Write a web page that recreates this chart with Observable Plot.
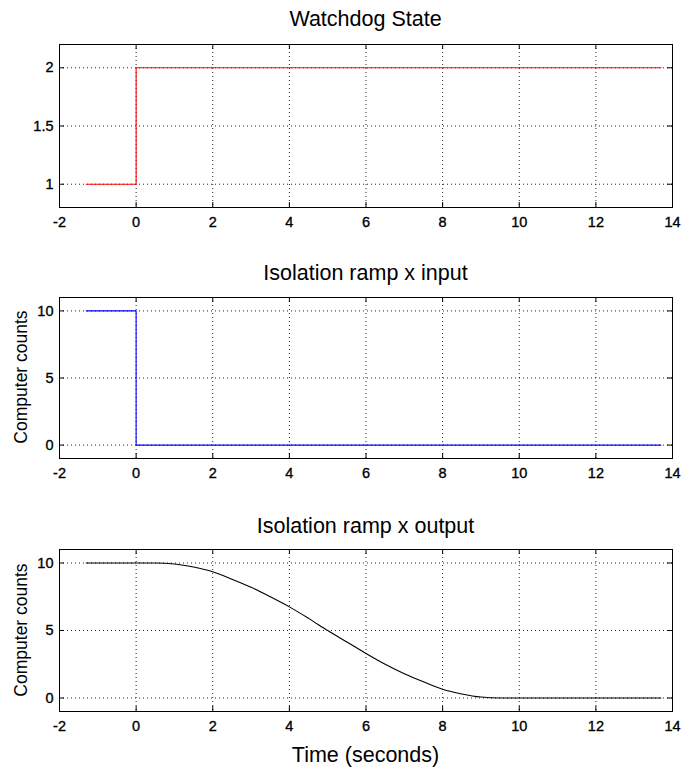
<!DOCTYPE html>
<html><head><meta charset="utf-8">
<script src="https://cdn.jsdelivr.net/npm/d3@7"></script>
<script src="https://cdn.jsdelivr.net/npm/@observablehq/plot@0.6"></script>
<style>
body{margin:0;background:#fff;}
#root{position:relative;width:685px;height:774px;font-family:"Liberation Sans",Arial,sans-serif;color:#000;overflow:hidden;}
.panel{position:absolute;left:0;}
.title{position:absolute;left:59px;width:613px;text-align:center;font-size:21.5px;line-height:24px;}
.ylab{position:absolute;width:200px;text-align:center;font-size:17.5px;line-height:20px;transform:rotate(-90deg);}
.xlab{position:absolute;left:59px;width:613px;text-align:center;font-size:21.5px;line-height:24px;}
</style>
</head><body>
<div id="root"></div>
<script>
// ---- data ----
const xTicks = [-2, 0, 2, 4, 6, 8, 10, 12, 14];
const stateTicks = [1, 1.5, 2];
const countTicks = [0, 5, 10];

const titles = ["Watchdog State", "Isolation ramp x input", "Isolation ramp x output"];
const yLabel = "Computer counts";
const xLabel = "Time (seconds)";

const wdTime = [-1.3, 0, 13.7];
const wdState = [1, 2, 2];

const inTime = [-1.3, 0, 13.7];
const inCounts = [10, 0, 0];

const outTime = [-1.3, 0, 0.5, 1, 1.5, 2, 2.5, 3, 3.5, 4, 4.5, 5, 5.5, 6, 6.5, 7, 7.5, 8, 8.5, 9, 9.5, 13.7];
const outCounts = [10, 10, 10, 9.93, 9.7, 9.35, 8.8, 8.2, 7.5, 6.75, 5.9, 5.0, 4.15, 3.3, 2.5, 1.8, 1.2, 0.65, 0.3, 0.07, 0, 0];

// ---- layout ----
const root = document.getElementById("root");
const W = 685, mL = 59, mR = 13, mT = 44, mB = 30;

function panel({top, height, xs, ys, color, yDomain, yTicks, curve}) {
  const data = xs.map((x, i) => ({x, y: ys[i]}));
  const plotH = height - mT - mB, plotW = W - mL - mR;
  const [x0, x1] = [-2, 14];
  const [y0, y1] = yDomain;
  const dy = (y1 - y0) * 5 / plotH;
  const dx = (x1 - x0) * 5 / plotW;
  const grid = {stroke: "#000", strokeWidth: 1, strokeDasharray: "1,3", strokeOpacity: 0.85};
  const tk = {stroke: "#000", strokeWidth: 1};
  const svg = Plot.plot({
    width: W, height,
    marginLeft: mL, marginRight: mR, marginTop: mT, marginBottom: mB,
    style: {fontSize: "14.5px", fontFamily: "Liberation Sans, Arial, sans-serif", color: "#000", background: "#fff"},
    x: {domain: [x0, x1], label: null},
    y: {domain: yDomain, label: null},
    marks: [
      Plot.ruleX(xTicks, {x: d => d, ...grid}),
      Plot.ruleY(yTicks, {y: d => d, ...grid}),
      Plot.ruleX(xTicks, {x: d => d, y1: y0, y2: y0 + dy, ...tk}),
      Plot.ruleX(xTicks, {x: d => d, y1: y1 - dy, y2: y1, ...tk}),
      Plot.ruleY(yTicks, {y: d => d, x1: x0, x2: x0 + dx, ...tk}),
      Plot.ruleY(yTicks, {y: d => d, x1: x1 - dx, x2: x1, ...tk}),
      Plot.line(data, {x: "x", y: "y", stroke: color, strokeWidth: 1.1, curve}),
      Plot.frame({stroke: "#000", strokeWidth: 1}),
      Plot.axisX({ticks: xTicks, tickSize: 0, tickPadding: 9, tickFormat: d => String(d), label: null}),
      Plot.axisY({ticks: yTicks, tickSize: 0, tickPadding: 6, tickFormat: d => String(d), label: null})
    ]
  });
  svg.classList.add("panel");
  svg.style.top = top + "px";
  // enlarge tick labels to the reference size
  svg.querySelectorAll("g[aria-label^='x-axis tick label'], g[aria-label^='y-axis tick label']").forEach(g => {
    g.setAttribute("font-size", "14.5");
    g.style.fontSize = "14.5px";
    g.querySelectorAll("text").forEach(t => { t.style.fontSize = "14.5px"; t.style.stroke = "#000"; t.style.strokeWidth = "0.35px"; });
  });
  root.appendChild(svg);
}

panel({top: 0, height: 237, xs: wdTime, ys: wdState, color: "#ff0000", yDomain: [0.8, 2.2], yTicks: stateTicks, curve: "step-after"});
panel({top: 253, height: 235, xs: inTime, ys: inCounts, color: "#0000ff", yDomain: [-1, 11], yTicks: countTicks, curve: "step-after"});
panel({top: 505, height: 236, xs: outTime, ys: outCounts, color: "#000000", yDomain: [-1, 11], yTicks: countTicks, curve: "monotone-x"});

function addText(cls, text, css) {
  const d = document.createElement("div");
  d.className = cls; d.textContent = text;
  Object.assign(d.style, css);
  root.appendChild(d);
}
addText("title", titles[0], {top: "7px"});
addText("title", titles[1], {top: "261px"});
addText("title", titles[2], {top: "514px"});
addText("ylab", yLabel, {left: (21 - 100) + "px", top: (377 - 10) + "px"});
addText("ylab", yLabel, {left: (21 - 100) + "px", top: (630 - 10) + "px"});
addText("xlab", xLabel, {top: "743px"});
</script>
</body></html>
